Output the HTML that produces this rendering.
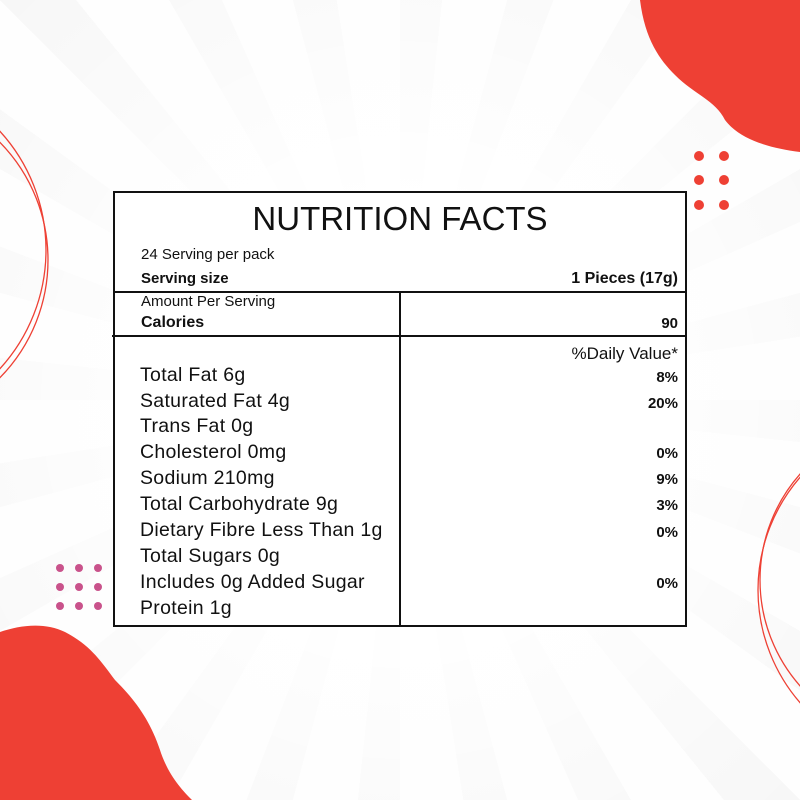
<!DOCTYPE html>
<html><head><style>
body{margin:0;width:800px;height:800px;overflow:hidden;font-family:"Liberation Sans",sans-serif;}
#bg{position:absolute;left:0;top:0;width:800px;height:800px;background:repeating-conic-gradient(from 0deg at 400px 400px,#f4f4f4 0deg 6deg,#fdfdfd 6deg 15deg);}
#fade{position:absolute;left:0;top:0;width:800px;height:800px;background:radial-gradient(circle at 400px 400px,#fff 0,#fff 200px,rgba(255,255,255,0.6) 400px,rgba(255,255,255,0.2) 600px);}
.t{position:absolute;color:#111;white-space:nowrap;}
.r{font-size:19.5px;left:140px;letter-spacing:0.3px;}
.v{font-size:15px;font-weight:bold;right:122px;}
</style></head><body>
<div id="bg"></div><div id="fade"></div>
<svg width="800" height="800" style="position:absolute;left:0;top:0">
<path d="M640 0 C645 40 660 60 675 75 C695 95 715 100 725 120 C740 140 770 148 800 152 L800 0 Z" fill="#ee4034"/>
<path d="M0 632 C20 625 45 622 65 632 C90 645 100 660 115 680 C135 700 150 720 160 750 C168 775 182 790 192 800 L0 800 Z" fill="#ee4034"/>
<g fill="#ee4034"><circle cx="699" cy="156" r="5"/><circle cx="724" cy="156" r="5"/><circle cx="699" cy="180" r="5"/><circle cx="724" cy="180" r="5"/><circle cx="699" cy="205" r="5"/><circle cx="724" cy="205" r="5"/></g>
<g fill="#c9528b"><circle cx="60" cy="568" r="4"/><circle cx="79" cy="568" r="4"/><circle cx="98" cy="568" r="4"/><circle cx="60" cy="587" r="4"/><circle cx="79" cy="587" r="4"/><circle cx="98" cy="587" r="4"/><circle cx="60" cy="606" r="4"/><circle cx="79" cy="606" r="4"/><circle cx="98" cy="606" r="4"/></g>
<g fill="none" stroke="#ee4034" stroke-width="1.3">
<circle cx="-120" cy="260" r="168"/><circle cx="-130" cy="250" r="176"/>
<circle cx="920" cy="580" r="160"/><circle cx="930" cy="590" r="172"/>
</g>
<rect x="114" y="192" width="572" height="434" fill="#fff" stroke="#111" stroke-width="2"/>
<line x1="114" y1="292" x2="686" y2="292" stroke="#111" stroke-width="2"/>
<line x1="112" y1="336" x2="686" y2="336" stroke="#111" stroke-width="2"/>
<line x1="400" y1="292" x2="400" y2="626" stroke="#111" stroke-width="2"/>
</svg>
<div class="t" style="left:0;width:800px;text-align:center;top:200px;font-size:33px;">NUTRITION FACTS</div>
<div class="t" style="left:141px;top:246px;font-size:15px;">24 Serving per pack</div>
<div class="t" style="left:141px;top:270px;font-size:15px;font-weight:bold;">Serving size</div>
<div class="t" style="right:122px;top:270px;font-size:16px;font-weight:bold;">1 Pieces (17g)</div>
<div class="t" style="left:141px;top:293px;font-size:15px;">Amount Per Serving</div>
<div class="t" style="left:141px;top:314px;font-size:16px;font-weight:bold;">Calories</div>
<div class="v t" style="top:315px;">90</div>
<div class="t" style="right:122px;top:344px;font-size:17px;">%Daily Value*</div>
<div class="t r" style="top:364px">Total Fat 6g</div><div class="t v" style="top:369px">8%</div>
<div class="t r" style="top:390px">Saturated Fat 4g</div><div class="t v" style="top:395px">20%</div>
<div class="t r" style="top:415px">Trans Fat 0g</div>
<div class="t r" style="top:441px">Cholesterol 0mg</div><div class="t v" style="top:445px">0%</div>
<div class="t r" style="top:467px">Sodium 210mg</div><div class="t v" style="top:471px">9%</div>
<div class="t r" style="top:493px">Total Carbohydrate 9g</div><div class="t v" style="top:497px">3%</div>
<div class="t r" style="top:519px">Dietary Fibre Less Than 1g</div><div class="t v" style="top:524px">0%</div>
<div class="t r" style="top:545px">Total Sugars 0g</div>
<div class="t r" style="top:571px">Includes 0g Added Sugar</div><div class="t v" style="top:575px">0%</div>
<div class="t r" style="top:597px">Protein 1g</div>
</body></html>
